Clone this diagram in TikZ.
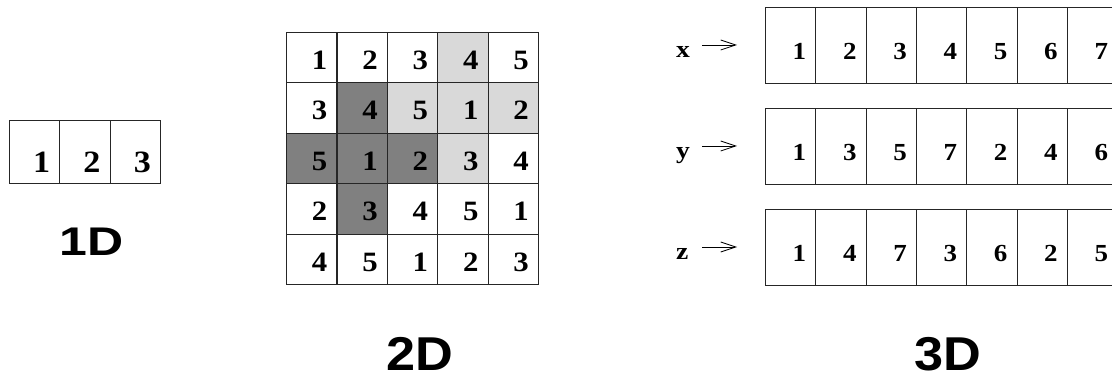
\documentclass[tikz,border=0pt]{standalone}
\usepackage{fontspec}
\setmainfont{Liberation Serif}
\newfontfamily\labsans{Liberation Sans}
\usetikzlibrary{arrows.meta,calc}
\definecolor{lightg}{RGB}{217,217,217}
\definecolor{darkg}{RGB}{128,128,128}
\begin{document}
\begin{tikzpicture}[x=1pt,y=-1pt,
  cell/.style={draw=black!85,line width=1.1pt,inner sep=0pt,anchor=north west},
  numA/.style={inner sep=0pt,anchor=base east,xscale=1.1,font=\fontsize{31}{31}\selectfont\bfseries},
  numB/.style={inner sep=0pt,anchor=base east,xscale=1.1,font=\fontsize{28}{28}\selectfont\bfseries},
  numC/.style={inner sep=0pt,anchor=base east,xscale=1.1,font=\fontsize{24.5}{24.5}\selectfont\bfseries},
  axl/.style={inner sep=0pt,anchor=base west,xscale=1.15,font=\fontsize{24}{24}\selectfont\bfseries},
  arr/.style={line width=0.8pt,-{Straight Barb[length=15pt,width=10pt,line width=0.8pt]}},
  dimlab/.style={inner sep=0pt,font=\fontsize{47.5}{47.5}\labsans\bfseries}]
\useasboundingbox (0,0) rectangle (1112,379);
% ---------- 1D ----------
\foreach \v [count=\i from 0] in {1,2,3}{
  \node[cell,minimum width=50.33pt,minimum height=63pt] (a\i) at (9+\i*50.33,120) {};
  \node[numA] (na\i) at ($(a\i.south east)+(-10,-12)$) {\v};
}
\node[dimlab,font=\fontsize{40}{40}\labsans\bfseries,xscale=1.25] (l1) at (91.7,242) {1D};
% ---------- 2D ----------
\foreach \r/\c/\v/\f in {0/0/1/white,0/1/2/white,0/2/3/white,0/3/4/lightg,0/4/5/white,
  1/0/3/white,1/1/4/darkg,1/2/5/lightg,1/3/1/lightg,1/4/2/lightg,
  2/0/5/darkg,2/1/1/darkg,2/2/2/darkg,2/3/3/lightg,2/4/4/white,
  3/0/2/white,3/1/3/darkg,3/2/4/white,3/3/5/white,3/4/1/white,
  4/0/4/white,4/1/5/white,4/2/1/white,4/3/2/white,4/4/3/white}{
  \node[cell,fill=\f,minimum width=50.4pt,minimum height=50.4pt] (b\r\c) at (286+\c*50.4,32+\r*50.4) {};
  \node[numB] (nb\r\c) at ($(b\r\c.south east)+(-10,-14)$) {\v};
}
\node[dimlab,xscale=1.1] (l2) at (419.5,354) {2D};
% ---------- 3D ----------
\foreach \lab/\top/\vals [count=\k] in {x/7/{1,2,3,4,5,6,7},y/108/{1,3,5,7,2,4,6},z/209/{1,4,7,3,6,2,5}}{
  \foreach \v [count=\i from 0] in \vals{
    \node[cell,minimum width=50.3pt,minimum height=76pt] (c\k\i) at (765+\i*50.3,\top) {};
    \node[numC] (nc\k\i) at ($(c\k\i.south east)+(-10,-25)$) {\v};
  }
  \node[axl] (ax\k) at (676,\top+51) {\lab};
  \coordinate (as\k) at (702,\top+38);
  \coordinate (ae\k) at (737,\top+38);
  \draw[arr] (as\k) -- (ae\k);
}
\node[dimlab,xscale=1.1] (l3) at (948,354) {3D};
\end{tikzpicture}
\end{document}
